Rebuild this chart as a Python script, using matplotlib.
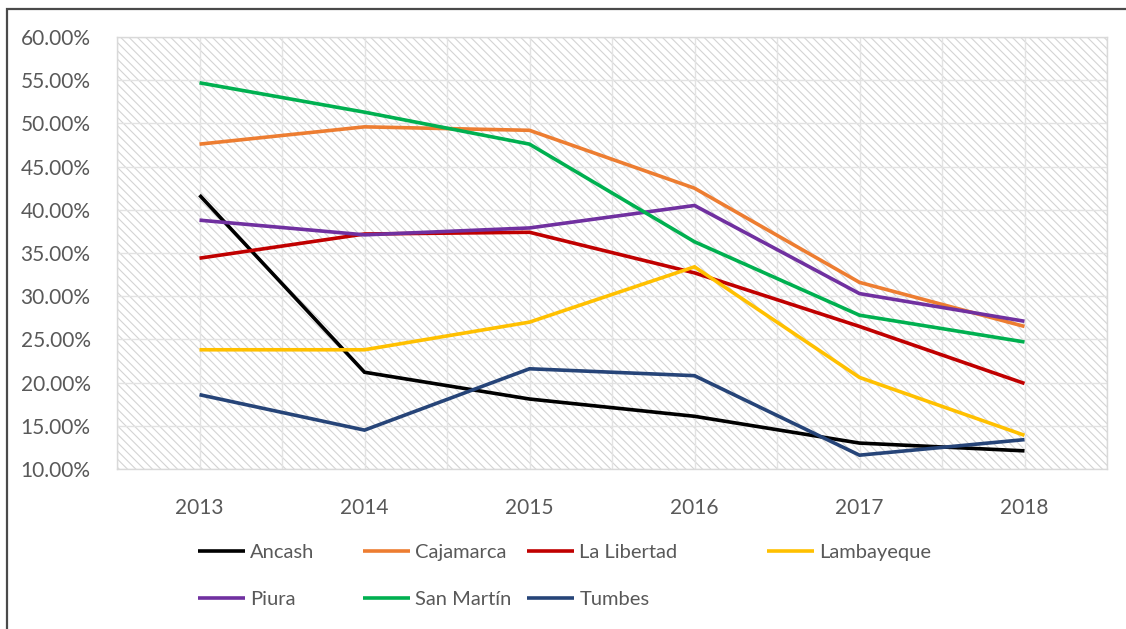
import matplotlib
matplotlib.use("Agg")
import matplotlib.pyplot as plt
from matplotlib.patches import Rectangle
from matplotlib.ticker import FuncFormatter, MultipleLocator
import numpy as np

years = ["2013", "2014", "2015", "2016", "2017", "2018"]
ancash = [41.7, 21.2, 18.1, 16.1, 13.0, 12.1]
cajamarca = [47.6, 49.6, 49.2, 42.5, 31.6, 26.5]
la_libertad = [34.4, 37.2, 37.4, 32.7, 26.5, 19.9]
lambayeque = [23.8, 23.8, 27.0, 33.4, 20.6, 13.9]
piura = [38.8, 37.1, 37.9, 40.5, 30.3, 27.1]
san_martin = [54.7, 51.3, 47.6, 36.3, 27.8, 24.7]
tumbes = [18.6, 14.5, 21.6, 20.8, 11.6, 13.4]

series_names = ["Ancash", "Cajamarca", "La Libertad", "Lambayeque", "Piura", "San Martín", "Tumbes"]
series_values = [ancash, cajamarca, la_libertad, lambayeque, piura, san_martin, tumbes]
series_colors = ["#000000", "#ED7D31", "#C00000", "#FFC000", "#7030A0", "#00B050", "#264478"]

y_ticks = [10, 15, 20, 25, 30, 35, 40, 45, 50, 55, 60]

plt.rcParams['font.family'] = ['Lato', 'DejaVu Sans']
plt.rcParams['hatch.linewidth'] = 0.8

W, H = 1126, 629
fig = plt.figure(figsize=(W / 100, H / 100), dpi=100)
fig.patch.set_facecolor("white")

ax = fig.add_axes([117 / W, 1 - 469 / H, (1107 - 117) / W, (469 - 37) / H])
ax.set_facecolor("white")

# hatched plot area
bg = Rectangle((0, 0), 1, 1, transform=ax.transAxes, facecolor="white",
               edgecolor="#d4d4d4", hatch="\\\\\\\\", linewidth=0, zorder=0)
ax.add_patch(bg)

x = np.arange(len(years))
handles = []
for name, vals, col in zip(series_names, series_values, series_colors):
    h, = ax.plot(x, vals, color=col, lw=2.6, label=name, zorder=3,
                 solid_joinstyle="miter", solid_capstyle="butt")
    handles.append(h)

ax.set_xlim(-0.5, len(years) - 0.5)
ax.set_ylim(10, 60)
ax.set_yticks(y_ticks)
ax.yaxis.set_major_formatter(FuncFormatter(lambda v, p: f"{v:.2f}%"))
ax.set_xticks(x)
ax.set_xticklabels(years)
ax.xaxis.set_minor_locator(MultipleLocator(0.5))

ax.grid(True, which="both", axis="x", color="#e3e3e3", lw=1.0, zorder=1)
ax.grid(True, which="major", axis="y", color="#e3e3e3", lw=1.0, zorder=1)
ax.set_axisbelow(True)

ax.tick_params(axis="both", which="both", length=0, labelsize=15, labelcolor="#595959")
ax.tick_params(axis="x", pad=21)
ax.tick_params(axis="y", pad=19)
for s in ax.spines.values():
    s.set_color("#d9d9d9")
    s.set_linewidth(1.0)

# legend: 4 columns filled row-wise, columns placed like the original
ncol = 4
col_left_px = [198, 363, 527, 767]
for c in range(ncol):
    idx = [i for i in range(len(handles)) if i % ncol == c]
    leg = fig.legend([handles[i] for i in idx], [series_names[i] for i in idx],
                     loc="upper left", bbox_to_anchor=(col_left_px[c] / W, 1 - 544 / H),
                     ncol=1, frameon=False, fontsize=14.5, handlelength=2.35,
                     handletextpad=0.25, labelspacing=1.5, borderpad=0, borderaxespad=0)
    for t in leg.get_texts():
        t.set_color("#595959")
    for l in leg.get_lines():
        l.set_linewidth(2.6)

# outer chart border (only left and top visible)
border = Rectangle((7 / W, -0.5), 2.0, 1.5 - 9 / H, transform=fig.transFigure,
                   fill=False, edgecolor="#4a4a4a", lw=1.6, zorder=10)
fig.add_artist(border)

fig.savefig("out.png", dpi=100, facecolor="white")
